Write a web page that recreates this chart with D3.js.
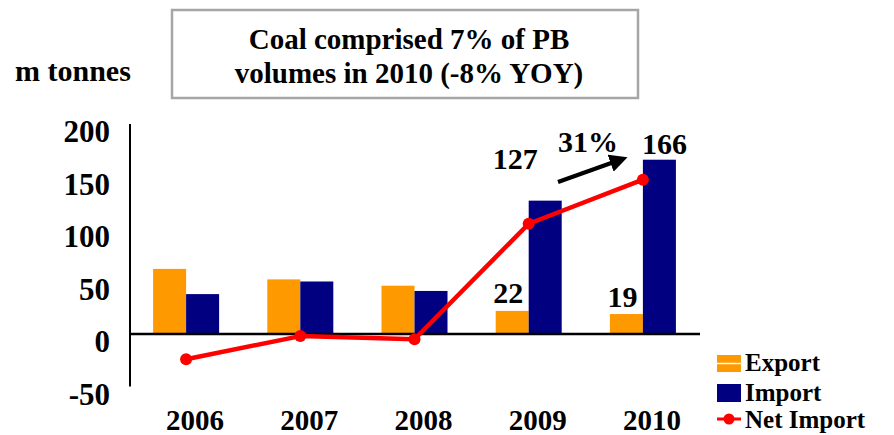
<!DOCTYPE html>
<html>
<head>
<meta charset="utf-8">
<script src="https://cdn.jsdelivr.net/npm/d3@7"></script>
<style>
	body { margin: 0; background: #fff; }
	svg { display: block; }
</style>
</head>
<body>
<svg id="chart" width="894" height="435" font-family="'Liberation Serif', 'DejaVu Serif', serif" font-weight="bold"></svg>
<script>
const years = ["2006", "2007", "2008", "2009", "2010"];
const exportVals = [62, 52, 46, 22, 19];
const importVals = [38, 50, 41, 127, 166];
const netImport = [-24, -2, -5, 105, 147];
const yTicks = [-50, 0, 50, 100, 150, 200];
const titleLines = ["Coal comprised 7% of PB", "volumes in 2010 (-8% YOY)"];
const seriesNames = ["Export", "Import", "Net Import"];
const colors = {Export: "#FF9900", Import: "#000080", "Net Import": "#FF0000"};
const serif = "'Liberation Serif', 'DejaVu Serif', serif";

const drawChart = (svg_name) => {
	let chart = d3.select(svg_name);
	let y = d3.scaleLinear().domain([-50, 200]).range([386.5, 124]);
	let x = d3.scaleBand().domain(years).range([129, 700]).padding(0);
	let xSub = d3.scaleBand().domain(["Export", "Import"])
						.range([0, x.bandwidth()]).paddingInner(0).paddingOuter(0.73);

	addTitle(chart);
	addBars(chart, x, xSub, y);
	addAxes(chart, x, y);
	addLine(chart, x, y);
	addLabels(chart, x, xSub, y);
	addLegend(chart);

	chart.selectAll("text")
		.style("font-family", serif)
		.style("font-weight", "bold")
		.attr("fill", "#000");
}

const addTitle = (chart) => {
	chart.append("rect")
		.attr("x", 172).attr("y", 10).attr("width", 466).attr("height", 88)
		.attr("fill", "#fff").attr("stroke", "#a6a6a6").attr("stroke-width", 2.5);
	chart.selectAll(".title").data(titleLines).enter()
		.append("text")
			.attr("class", "title")
			.attr("x", 409)
			.attr("y", (d, i) => 49 + i * 34)
			.attr("text-anchor", "middle")
			.style("font-size", "29px")
			.text(d => d);
	chart.append("text")
		.attr("x", 15).attr("y", 81)
		.style("font-size", "30px")
		.text("m tonnes");
}

const addBars = (chart, x, xSub, y) => {
	let rows = years.map((yr, i) => ({year: yr, Export: exportVals[i], Import: importVals[i]}));
	chart.append("g").selectAll("g")
		.data(rows).enter()
		.append("g")
			.attr("transform", d => `translate(${x(d.year)},0)`)
		.selectAll("rect")
		.data(d => ["Export", "Import"].map(k => ({key: k, value: d[k]})))
		.enter()
		.append("rect")
			.attr("x", d => xSub(d.key))
			.attr("y", d => y(d.value))
			.attr("width", xSub.bandwidth())
			.attr("height", d => y(0) - y(d.value))
			.attr("fill", d => colors[d.key]);
}

const addAxes = (chart, x, y) => {
	chart.append("line")
		.attr("x1", 130).attr("x2", 130)
		.attr("y1", y(200)).attr("y2", y(-50))
		.attr("stroke", "#000").attr("stroke-width", 2);
	chart.append("line")
		.attr("x1", 130).attr("x2", x.range()[1])
		.attr("y1", y(0)).attr("y2", y(0))
		.attr("stroke", "#000").attr("stroke-width", 2.5);

	chart.selectAll(".ytick").data(yTicks).enter()
		.append("text")
			.attr("class", "ytick")
			.attr("x", 110)
			.attr("y", d => y(d) + 18)
			.attr("text-anchor", "end")
			.style("font-size", "31px")
			.text(d => d);

	chart.selectAll(".xtick").data(years).enter()
		.append("text")
			.attr("class", "xtick")
			.attr("x", d => x(d) + x.bandwidth() / 2 + 9)
			.attr("y", 430)
			.attr("text-anchor", "middle")
			.style("font-size", "29px")
			.text(d => d);
}

const addLine = (chart, x, y) => {
	let pts = years.map((yr, i) => ({year: yr, value: netImport[i]}));
	let line = d3.line()
		.x(d => x(d.year) + x.bandwidth() / 2)
		.y(d => y(d.value));
	chart.append("path")
		.datum(pts)
		.attr("d", line)
		.attr("fill", "none")
		.attr("stroke", colors["Net Import"])
		.attr("stroke-width", 4.5)
		.attr("stroke-linejoin", "round");
	chart.append("g").selectAll("circle")
		.data(pts).enter()
		.append("circle")
			.attr("cx", d => x(d.year) + x.bandwidth() / 2)
			.attr("cy", d => y(d.value))
			.attr("r", 6)
			.attr("fill", colors["Net Import"]);
}

const addLabels = (chart, x, xSub, y) => {
	let cx = (yr, key) => x(yr) + xSub(key) + xSub.bandwidth() / 2;
	let i09 = years.indexOf("2009"), i10 = years.indexOf("2010");
	let labels = [
		{x: cx("2009", "Export") - 4, y: y(exportVals[i09]) - 8, text: exportVals[i09]},
		{x: cx("2010", "Export") - 4, y: y(exportVals[i10]) - 7, text: exportVals[i10]},
		{x: cx("2009", "Export") + 3, y: y(importVals[i09]) - 32, text: importVals[i09]},
		{x: cx("2010", "Import") + 5, y: y(importVals[i10]) - 6, text: importVals[i10]},
		{x: 588, y: 152, text: "31%"}
	];
	chart.selectAll(".dlabel").data(labels).enter()
		.append("text")
			.attr("class", "dlabel")
			.attr("x", d => d.x)
			.attr("y", d => d.y)
			.attr("text-anchor", "middle")
			.style("font-size", "30px")
			.text(d => d.text);

	chart.append("defs").append("marker")
		.attr("id", "arrowhead")
		.attr("viewBox", "0 0 10 10")
		.attr("refX", 2).attr("refY", 5)
		.attr("markerWidth", 4.5).attr("markerHeight", 4.5)
		.attr("orient", "auto")
		.append("path").attr("d", "M0,0 L10,5 L0,10 z").attr("fill", "#000");
	chart.append("line")
		.attr("x1", 558).attr("y1", 182)
		.attr("x2", 614).attr("y2", 162)
		.attr("stroke", "#000").attr("stroke-width", 4)
		.attr("marker-end", "url(#arrowhead)");
}

const addLegend = (chart) => {
	let legend = chart.append("g");
	let rowsY = [371, 401, 428];
	legend.append("rect")
		.attr("x", 717).attr("y", 355).attr("width", 24).attr("height", 17)
		.attr("fill", colors.Export);
	legend.append("line")
		.attr("x1", 717).attr("x2", 741).attr("y1", 363.5).attr("y2", 363.5)
		.attr("stroke", "#fff").attr("stroke-width", 1.5);
	legend.append("rect")
		.attr("x", 717).attr("y", 384).attr("width", 24).attr("height", 18)
		.attr("fill", colors.Import);
	legend.append("line")
		.attr("x1", 717).attr("x2", 741).attr("y1", 419).attr("y2", 419)
		.attr("stroke", colors["Net Import"]).attr("stroke-width", 3);
	legend.append("circle")
		.attr("cx", 729).attr("cy", 419).attr("r", 5.5)
		.attr("fill", colors["Net Import"]);
	legend.selectAll("text").data(seriesNames).enter()
		.append("text")
			.attr("x", 745)
			.attr("y", (d, i) => rowsY[i])
			.style("font-size", "25px")
			.text(d => d);
}

drawChart("#chart");
</script>
</body>
</html>
